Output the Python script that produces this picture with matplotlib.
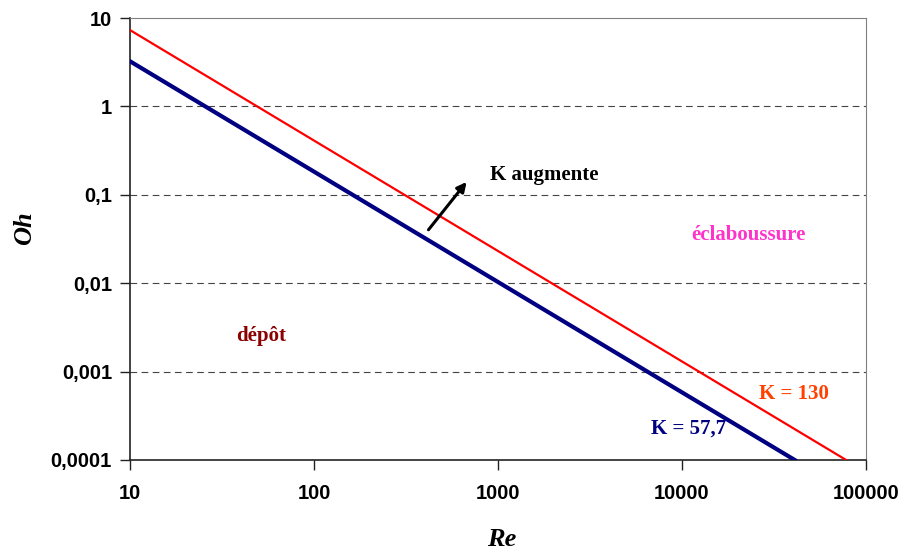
import matplotlib.pyplot as plt

# Re / Oh end points of the two splash limits
re_k130 = [10, 78000]
oh_k130 = [7.3, 0.0001]
re_k577 = [10, 41000]
oh_k577 = [3.24, 0.0001]

x_ticks = [10, 100, 1000, 10000, 100000]
x_labels = ['10', '100', '1000', '10000', '100000']
y_ticks = [0.0001, 0.001, 0.01, 0.1, 1, 10]
y_labels = ['0,0001', '0,001', '0,01', '0,1', '1', '10']

fig = plt.figure(figsize=(9.01, 5.52), dpi=100)
ax = fig.add_axes([130 / 901, 1 - 460 / 552, 736 / 901, 442 / 552])

ax.set_xscale('log')
ax.set_yscale('log')
ax.set_xlim(10, 100000)
ax.set_ylim(0.0001, 10)

# grille pointillée
for y in y_ticks[1:-1]:
    ax.axhline(y, color='#444444', lw=0.8, ls=(0, (6, 4)), zorder=1)

ax.plot(re_k130, oh_k130, color='#ff0000', lw=1.6, zorder=3)
ax.plot(re_k577, oh_k577, color='#000080', lw=3, zorder=3)

ax.set_xticks(x_ticks)
ax.set_xticklabels(x_labels)
ax.set_yticks(y_ticks)
ax.set_yticklabels(y_labels)
ax.minorticks_off()
ax.tick_params(direction='out', length=7, width=1, color='#222222', pad=6)
for lab in ax.get_xticklabels() + ax.get_yticklabels():
    lab.set_family('Liberation Sans')
    lab.set_weight('bold')
    lab.set_size(14.5)
ax.tick_params(axis='x', pad=10)

for s in ['top', 'right']:
    ax.spines[s].set_color('#808080')
for s in ['left', 'bottom']:
    ax.spines[s].set_color('#222222')
    ax.spines[s].set_linewidth(1.2)

ax.set_xlabel('Re', family='Liberation Serif', style='italic', weight='bold',
              fontsize=19)
ax.set_ylabel('Oh', family='Liberation Serif', style='italic', weight='bold',
              fontsize=19)
ax.xaxis.set_label_coords((502 - 130) / 736, -(528 - 460) / 442)
ax.yaxis.set_label_coords(-(130 - 36) / 736, (460 - 228) / 442)

txt = dict(family='Liberation Serif', weight='bold', fontsize=15,
           ha='center', va='center')
ax.annotate('', xy=(690, 0.148), xytext=(410, 0.038),
            arrowprops=dict(arrowstyle='-|>', color='black', lw=2.2,
                            mutation_scale=14))
ax.text(905, 0.168, 'K augmente', color='black',
        **{**txt, 'ha': 'left'})
ax.text(23100, 0.035, 'éclaboussure', color='#ff33cc', **txt)
ax.text(51.5, 0.00253, 'dépôt', color='#8b0000', **txt)
ax.text(40600, 0.00056, 'K = 130', color='#ff4000', **txt)
ax.text(10800, 0.000224, 'K = 57,7', color='#000080', **txt)

fig.savefig('out.png', dpi=100)
